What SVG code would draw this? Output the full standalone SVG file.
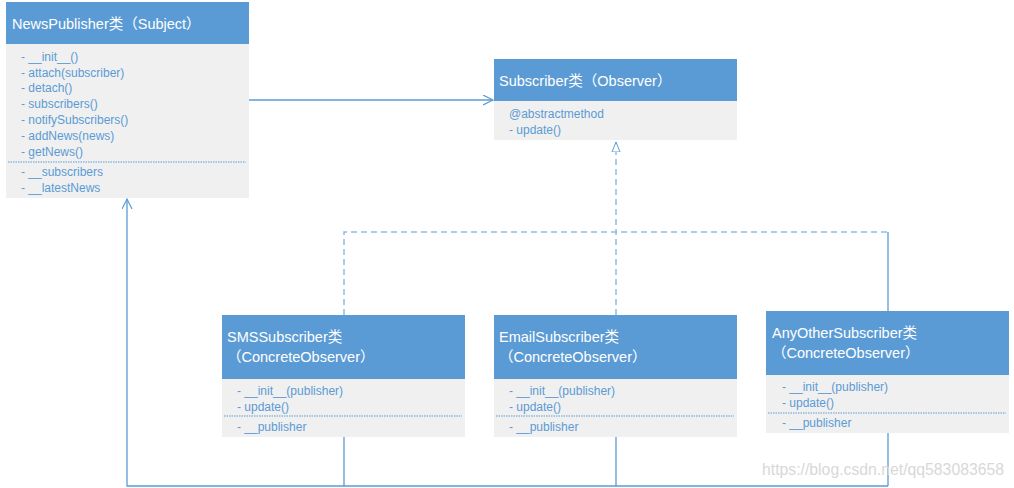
<svg xmlns="http://www.w3.org/2000/svg" width="1014" height="488" viewBox="0 0 1014 488">
<style>
.hd{fill:#5B9BD5}
.bd{fill:#F0F0F0}
.t{font-family:"Liberation Sans","Noto Sans CJK SC",sans-serif;font-size:14.5px;fill:#FFFFFF}
.m{font-family:"Liberation Sans","Noto Sans CJK SC",sans-serif;font-size:12px;fill:#5B9BD5}
.sep{stroke:#5B9BD5;stroke-width:1;stroke-dasharray:1.5 1}
.ln{stroke:#5B9BD5;stroke-width:1.3;fill:none}
.dl{stroke:#8DBDE8;stroke-width:1.5;fill:none;stroke-dasharray:6 4}
.wm{font-family:"Liberation Sans",sans-serif;font-size:16px;fill:#D8D8D8}
</style>
<defs>
<marker id="open" markerWidth="12" markerHeight="12" refX="10" refY="5" orient="auto" markerUnits="userSpaceOnUse">
<path d="M0,0 L10,5 L0,10" fill="none" stroke="#5B9BD5" stroke-width="1.2"/>
</marker>
<marker id="tri" markerWidth="12" markerHeight="12" refX="10" refY="5" orient="auto" markerUnits="userSpaceOnUse">
<path d="M0,1 L10,5 L0,9 Z" fill="#FFFFFF" stroke="#5B9BD5" stroke-width="1"/>
</marker>
</defs>
<rect width="1014" height="488" fill="#FFFFFF"/>
<g id="connectors">
<path class="ln" d="M249,100 H493" marker-end="url(#open)"/>
<path class="dl" d="M344,315 V232 H888"/>
<path class="ln" d="M888,232 V311" stroke-width="1"/>
<path class="dl" d="M616,315 V142" marker-end="url(#tri)"/>
<path class="ln" d="M344,437 V486 M616,437 V486 M888,433 V486"/>
<path class="ln" d="M888,486 H127 V199" marker-end="url(#open)"/>
</g>
<g id="NewsPublisher">
<rect class="hd" x="6" y="2" width="243" height="42"/>
<rect class="bd" x="6" y="44" width="243" height="154"/>
<text class="t" x="12" y="29">NewsPublisher类（Subject）</text>
<text class="m" x="21" y="61">- __init__()</text>
<text class="m" x="21" y="77">- attach(subscriber)</text>
<text class="m" x="21" y="92">- detach()</text>
<text class="m" x="21" y="108">- subscribers()</text>
<text class="m" x="21" y="124">- notifySubscribers()</text>
<text class="m" x="21" y="140">- addNews(news)</text>
<text class="m" x="21" y="156">- getNews()</text>
<line class="sep" x1="8" y1="162" x2="246" y2="162"/>
<text class="m" x="21" y="176">- __subscribers</text>
<text class="m" x="21" y="192">- __latestNews</text>
</g>
<g id="Subscriber">
<rect class="hd" x="494" y="59" width="243" height="42"/>
<rect class="bd" x="494" y="101" width="243" height="39"/>
<text class="t" x="499" y="86">Subscriber类（Observer）</text>
<text class="m" x="509" y="118">@abstractmethod</text>
<text class="m" x="509" y="134">- update()</text>
</g>
<g id="SMSSubscriber">
<rect class="hd" x="222" y="315" width="243" height="64"/>
<rect class="bd" x="222" y="379" width="243" height="58"/>
<text class="t" x="227" y="342">SMSSubscriber类</text>
<text class="t" x="227" y="362">（ConcreteObserver）</text>
<text class="m" x="237" y="395">- __init__(publisher)</text>
<text class="m" x="237" y="411">- update()</text>
<line class="sep" x1="224" y1="416" x2="462" y2="416"/>
<text class="m" x="237" y="431">- __publisher</text>
</g>
<g id="EmailSubscriber">
<rect class="hd" x="494" y="315" width="243" height="64"/>
<rect class="bd" x="494" y="379" width="243" height="58"/>
<text class="t" x="499" y="342">EmailSubscriber类</text>
<text class="t" x="499" y="362">（ConcreteObserver）</text>
<text class="m" x="509" y="395">- __init__(publisher)</text>
<text class="m" x="509" y="411">- update()</text>
<line class="sep" x1="496" y1="416" x2="734" y2="416"/>
<text class="m" x="509" y="431">- __publisher</text>
</g>
<g id="AnyOtherSubscriber">
<rect class="hd" x="766" y="311" width="243" height="64"/>
<rect class="bd" x="766" y="375" width="243" height="58"/>
<text class="t" x="772" y="338">AnyOtherSubscriber类</text>
<text class="t" x="772" y="358">（ConcreteObserver）</text>
<text class="m" x="782" y="391">- __init__(publisher)</text>
<text class="m" x="782" y="407">- update()</text>
<line class="sep" x1="768" y1="413" x2="1006" y2="413"/>
<text class="m" x="782" y="427">- __publisher</text>
</g>
<text class="wm" x="762" y="475" textLength="242" lengthAdjust="spacingAndGlyphs">https://blog.csdn.net/qq583083658</text>
</svg>
